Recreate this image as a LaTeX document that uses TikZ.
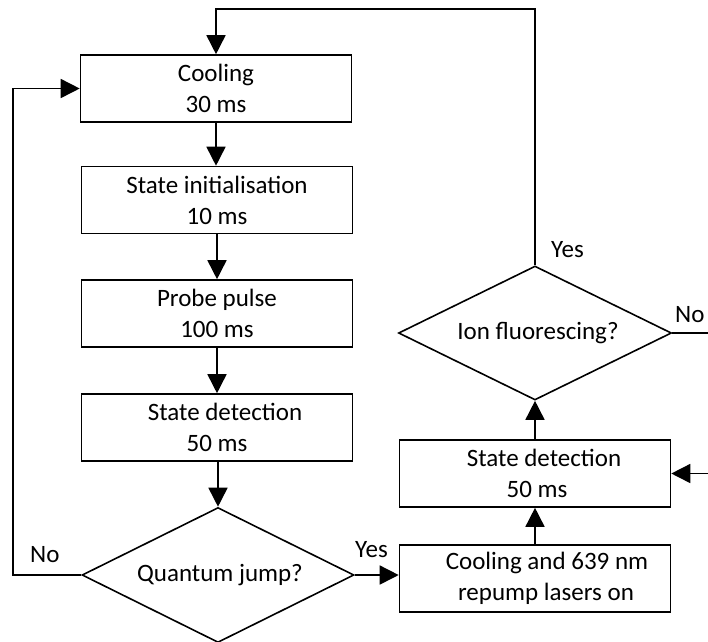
\documentclass[tikz,border=0pt]{standalone}
\usepackage{fontspec}
\setmainfont{Carlito}
\usetikzlibrary{shapes.geometric,arrows.meta}
\begin{document}
\begin{tikzpicture}[x=1pt,y=-1pt,
  every node/.style={font=\fontsize{25}{31}\selectfont},
  stepbox/.style={draw, line width=1.6pt, rectangle, minimum width=271pt, minimum height=67pt, inner sep=0pt, align=center},
  decision/.style={draw, line width=1.6pt, diamond, aspect=2, minimum width=272pt, minimum height=135pt, inner sep=0pt, align=center},
  conn/.style={line width=1.6pt},
  arr/.style={conn, -{Triangle[length=19pt,width=19pt]}},
  lbl/.style={inner sep=0pt, anchor=base west}
]
\useasboundingbox (0,0) rectangle (708,641);

\node[stepbox] (cool)  at (216,88.5) {Cooling\\30 ms};
\node[stepbox] (init)  at (217,200) {State initialisation\\10 ms};
\node[stepbox] (probe) at (217,313.5) {Probe pulse\\100 ms};
\node[stepbox] (det)   at (217,427.5) {\hspace*{16pt}State detection\\50 ms};
\node[decision] (qj)   at (218,575) {\hspace*{4pt}Quantum jump?};

\node[stepbox] (laser) at (535,578.5) {\hspace*{24pt}Cooling and 639 nm\\\hspace*{22pt}repump lasers on};
\node[stepbox] (rdet)  at (535,473.5) {\hspace*{18pt}State detection\\\hspace*{4pt}50 ms};
\node[decision, minimum width=273pt, minimum height=134pt] (ion) at (535,333) {\hspace*{6pt}Ion fluorescing?};

\coordinate (ne) at (708,333);
\coordinate (re) at (708,473.5);
\coordinate (tr) at (535,9);
\coordinate (lb) at (13,575);

\draw[arr] (cool.south) -- (cool.south |- init.north);
\draw[arr] (init.south) -- (init.south |- probe.north);
\draw[arr] (probe.south) -- (probe.south |- det.north);
\draw[arr] (det.south -| qj.north) -- (qj.north);

\draw[arr] (qj.west) -- (lb) |- (cool.west);
\draw[arr] (qj.east) -- (qj.east -| laser.west);
\draw[arr] (laser.north) -- (laser.north |- rdet.south);
\draw[arr] (rdet.north) -- (ion.south);
\draw[arr] (ion.north) -- (tr) -| (cool.north);
\draw[conn] (ion.east) -- (ne);
\draw[arr] (re) -- (rdet.east);

\node[lbl] (yes1) at (551,257) {Yes};
\node[lbl] (no1)  at (675,322) {No};
\node[lbl] (no2)  at (30,562) {No};
\node[lbl] (yes2) at (355,557) {Yes};
\end{tikzpicture}
\end{document}
